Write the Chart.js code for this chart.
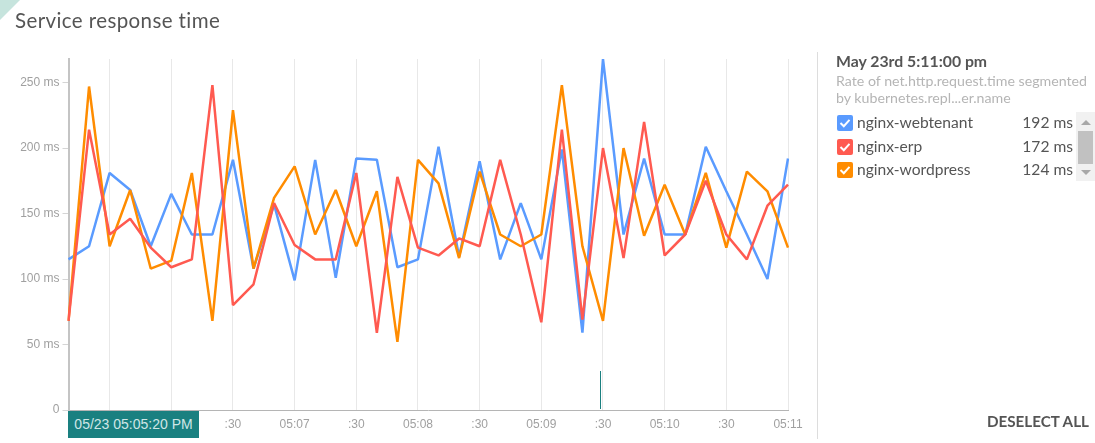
<!DOCTYPE html>
<html><head><meta charset="utf-8">
<script src="https://cdn.jsdelivr.net/npm/chart.js@4"></script>
<style>
html,body{margin:0;padding:0;background:#fff;overflow:hidden;width:1095px;height:443px;font-family:Lato,sans-serif}
canvas{position:absolute;left:0;top:0}
.abs{position:absolute;white-space:nowrap}
.row{position:absolute;left:837px;width:236px;height:17px;font-size:15.6px;color:#555;line-height:17px}
.cb{position:absolute;left:0;top:0;width:16px;height:16px;border-radius:2px}
.cb svg{position:absolute;left:0;top:0}
.nm{position:absolute;left:20px;top:-1px}
.vl{position:absolute;right:0;top:-1px}
</style></head><body>
<canvas id="c" width="1095" height="443"></canvas>
<div class="abs" style="left:0;top:0;width:0;height:0;border-top:20px solid #c6e4dd;border-right:20px solid transparent"></div>
<div class="abs" style="left:15px;top:8px;font-size:20.5px;color:#555;letter-spacing:.4px">Service response time</div>
<div class="abs" style="left:68px;top:411px;width:131px;height:27px;background:#1a8080;color:#cfe6e6;font:14px/27px 'Liberation Sans',sans-serif;text-align:center">05/23 05:05:20 PM</div>
<div class="abs" style="left:600px;top:371px;width:1px;height:38px;background:#1a8080"></div>
<div class="abs" style="left:817px;top:52px;width:1px;height:387px;background:#ddd"></div>
<div class="abs" style="left:836px;top:51px;font-size:15.8px;font-weight:700;color:#555">May 23rd 5:11:00 pm</div>
<div class="abs" style="left:836px;top:72px;font-size:14.2px;line-height:17px;color:#b5b5b5">Rate of net.http.request.time segmented<br>by kubernetes.repl...er.name</div>
<div id="rows"></div>
<div class="abs" style="left:1076px;top:112px;width:19px;height:69px;background:#f1f1f1"></div>
<div class="abs" style="left:1078px;top:131px;width:15px;height:33px;background:#c1c1c1"></div>
<div class="abs" style="left:1081px;top:120px;width:0;height:0;border-left:5px solid transparent;border-right:5px solid transparent;border-bottom:5px solid #a8a8a8"></div>
<div class="abs" style="left:1081px;top:170px;width:0;height:0;border-left:5px solid transparent;border-right:5px solid transparent;border-top:5px solid #a8a8a8"></div>
<div class="abs" style="left:987px;top:412px;font-size:15.2px;font-weight:700;color:#555">DESELECT ALL</div>
<script>
const timeLabels = ['', '', ':30', '', '', '05:06', '', '', ':30', '', '', '05:07', '', '', ':30', '', '', '05:08', '', '', ':30', '', '', '05:09', '', '', ':30', '', '', '05:10', '', '', ':30', '', '', '05:11'];
const webtenant = [115,125,181,168,125,165,134,134,191,108,157,99,191,101,192,191,109,115,201,117,190,115,158,115,199,59,268,134,192,134,134,201,167,134,100,192];
const erp = [68,214,134,146,124,109,115,248,80,96,158,126,115,115,181,59,178,124,118,131,125,191,134,67,214,69,200,116,220,118,134,175,134,115,156,172];
const wordpress = [68,247,125,168,108,114,181,68,229,108,162,186,134,168,125,167,52,191,173,116,182,134,125,134,248,125,68,200,133,172,134,181,124,182,167,124];
const seriesNames = ['nginx-webtenant','nginx-erp','nginx-wordpress'];
const seriesColors = ['#5a9bff','#ff5a50','#ff8c00'];
const seriesValues = ['192 ms','172 ms','124 ms'];
const rowTops = [115,139,162];

const rows = document.getElementById('rows');
seriesNames.forEach((n,i)=>{
  const r = document.createElement('div');
  r.className='row'; r.style.top=rowTops[i]+'px';
  r.innerHTML = `<div class="cb" style="background:${seriesColors[i]}"><svg width="16" height="16"><path d="M3.5 8 L6.8 11.2 L12.5 4.8" stroke="#fff" stroke-width="2" fill="none"/></svg></div><span class="nm">${n}</span><span class="vl">${seriesValues[i]}</span>`;
  rows.appendChild(r);
});

const axisFont = {family:"'Liberation Sans',sans-serif", size:12};
new Chart(document.getElementById('c'),{
  type:'line',
  data:{labels:timeLabels,datasets:[webtenant,erp,wordpress].map((d,i)=>({
    label:seriesNames[i],data:d,borderColor:seriesColors[i],backgroundColor:seriesColors[i],
    borderWidth:2.5,pointRadius:0,tension:0,fill:false,borderJoinStyle:'bevel',order:[2,0,1][i]
  }))},
  options:{
    responsive:false,animation:false,devicePixelRatio:1,
    layout:{padding:{top:59,right:307,left:0,bottom:0}},
    plugins:{legend:{display:false},tooltip:{enabled:false},title:{display:false}},
    scales:{
      x:{type:'category',offset:false,
        afterFit(a){a.height=33;},
        border:{display:true,color:'#b5b5b5',width:1},
        grid:{drawTicks:false,color:c=>timeLabels[c.index]?'#e8e8e8':'rgba(0,0,0,0)',lineWidth:1},
        ticks:{autoSkip:false,maxRotation:0,minRotation:0,color:'#a0a0a0',font:axisFont,padding:7,
          callback:(v,i)=>timeLabels[i]}
      },
      y:{min:0,max:268,
        afterFit(a){a.width=68.5;},
        border:{display:true,color:'#c4c4c4',width:2},
        grid:{drawOnChartArea:false,drawTicks:true,tickLength:6,color:'#d5d5d5'},
        ticks:{stepSize:50,includeBounds:false,color:'#a0a0a0',font:axisFont,padding:3,
          callback:v=>v===0?'0':v+' ms'}
      }
    }
  }
});
</script>
</body></html>
